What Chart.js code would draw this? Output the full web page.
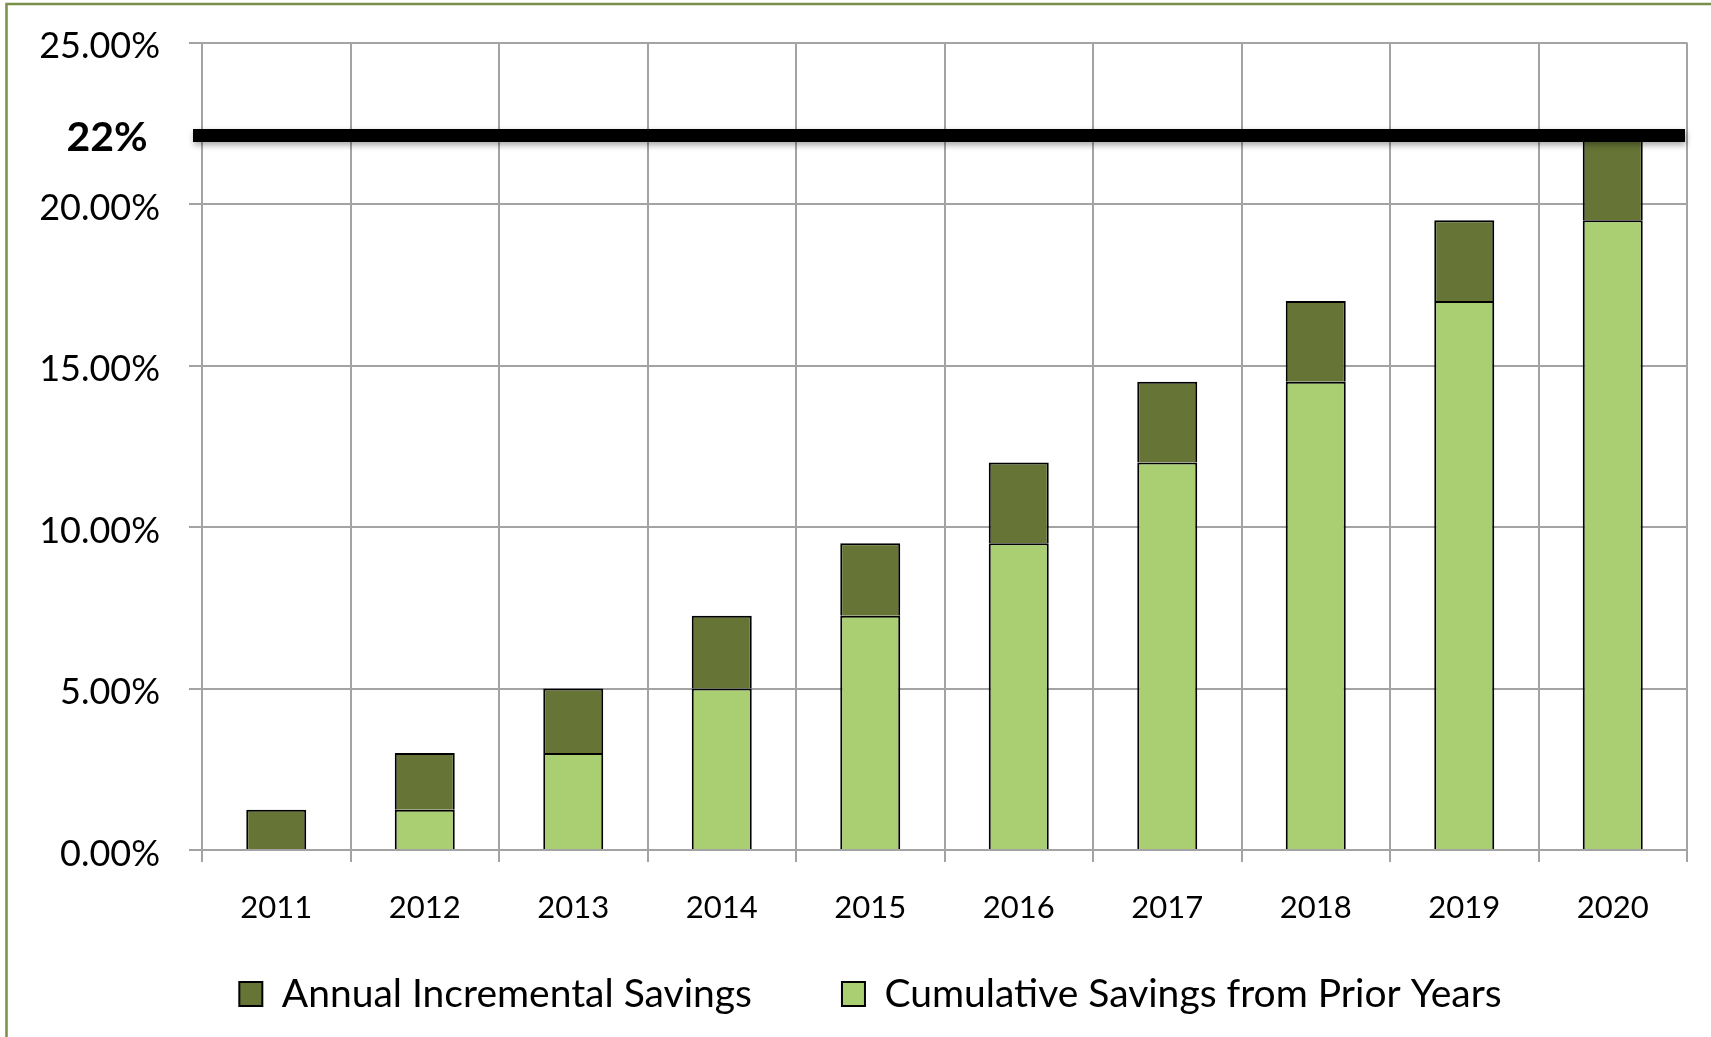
<!DOCTYPE html>
<html>
<head>
<meta charset="utf-8">
<script src="https://cdn.jsdelivr.net/npm/chart.js@4.4.1/dist/chart.umd.min.js"></script>
<style>
html,body{margin:0;padding:0;background:#fff;overflow:hidden}
#wrap{width:1711px;height:1037px;position:relative}
</style>
</head>
<body>
<div id="wrap"><canvas id="c" width="1711" height="1037"></canvas></div>
<script>
// ---- data ----
const years = ['2011','2012','2013','2014','2015','2016','2017','2018','2019','2020'];
const cumulativePrior = [0, 1.25, 3, 5, 7.25, 9.5, 12, 14.5, 17, 19.5];
const annualIncremental = [1.25, 1.75, 2, 2.25, 2.25, 2.5, 2.5, 2.5, 2.5, 2.5];
const seriesNames = ['Cumulative Savings from Prior Years', 'Annual Incremental Savings'];
const yMin = 0, yMax = 25, yStep = 5;
const targetValue = 22;
const targetLabel = '22%';

// ---- styles ----
const FONT = 'Lato';
const darkGreen = '#667536';
const lightGreen = '#AACF73';
const gridColor = '#A3A3A3';
const frameColor = '#7A8F48';
const LEGEND_FONT = 39;
const LEGEND_PAD = 90;

const framePlugin = {
  id: 'frame',
  beforeDraw(chart) {
    const ctx = chart.ctx;
    ctx.save();
    ctx.fillStyle = '#fff';
    ctx.fillRect(0, 0, chart.width, chart.height);
    ctx.strokeStyle = frameColor;
    ctx.lineWidth = 2.5;
    ctx.beginPath();
    ctx.moveTo(chart.width, 4);
    ctx.lineTo(6.5, 4);
    ctx.lineTo(6.5, chart.height);
    ctx.stroke();
    ctx.restore();
  }
};

const legendPlacePlugin = {
  id: 'legendPlace',
  beforeLayout(chart) {
    const lg = chart.legend;
    if (lg && !lg._fixedFit) {
      const orig = lg.fit;
      lg.fit = function () { orig.call(this); this.height = 87; };
      lg._fixedFit = true;
    }
  },
  afterLayout(chart) {
    const lg = chart.legend;
    if (!lg) return;
    // legend text centre sits at ~994px
    lg.top = 994 - LEGEND_PAD - LEGEND_FONT / 2;
    lg.left += 27;
    lg.right += 27;
  }
};

const targetPlugin = {
  id: 'target',
  afterDatasetsDraw(chart) {
    const {ctx, chartArea: a, scales: {y}} = chart;
    const yp = y.getPixelForValue(targetValue) - 4;
    ctx.save();
    ctx.shadowColor = 'rgba(0,0,0,0.35)';
    ctx.shadowBlur = 6;
    ctx.shadowOffsetX = 1;
    ctx.shadowOffsetY = 3;
    ctx.strokeStyle = '#000';
    ctx.lineWidth = 13;
    ctx.lineCap = 'butt';
    ctx.beginPath();
    ctx.moveTo(a.left - 9, yp);
    ctx.lineTo(a.right - 2, yp);
    ctx.stroke();
    ctx.restore();
    ctx.save();
    ctx.font = 'bold 41px ' + FONT;
    ctx.fillStyle = '#000';
    ctx.textAlign = 'center';
    ctx.textBaseline = 'middle';
    ctx.fillText(targetLabel, a.left - 95, yp + 2);
    ctx.restore();
  }
};

new Chart(document.getElementById('c'), {
  type: 'bar',
  data: {
    labels: years,
    datasets: [
      {
        label: seriesNames[0],
        data: cumulativePrior,
        backgroundColor: lightGreen,
        borderColor: '#000',
        borderWidth: 2
      },
      {
        label: seriesNames[1],
        data: annualIncremental,
        backgroundColor: darkGreen,
        borderColor: '#000',
        borderWidth: 2
      }
    ]
  },
  options: {
    responsive: false,
    animation: false,
    devicePixelRatio: 1,
    layout: { padding: { left: 0, right: 24, top: 42.5, bottom: 0 } },
    datasets: { bar: { barPercentage: 0.404, categoryPercentage: 1.0 } },
    scales: {
      x: {
        stacked: true,
        grid: { color: gridColor, lineWidth: 2, tickLength: 12, offset: true },
        border: { color: gridColor, width: 2 },
        ticks: { color: '#000', font: { family: FONT, size: 31 }, padding: 27, maxRotation: 0 },
        afterFit(scale) { scale.height = 100; }
      },
      y: {
        stacked: true,
        min: yMin, max: yMax,
        grid: { color: gridColor, lineWidth: 2, tickLength: 13 },
        border: { color: gridColor, width: 2 },
        ticks: {
          stepSize: yStep,
          color: '#000',
          font: { family: FONT, size: 36 },
          padding: 29,
          labelOffset: 4,
          callback: v => v.toFixed(2) + '%'
        },
        afterFit(scale) {
          scale.width = 202;
          scale.paddingTop = 0;
          scale.paddingBottom = 0;
        }
      }
    },
    plugins: {
      legend: {
        position: 'bottom',
        reverse: true,
        labels: {
          color: '#000',
          font: { family: FONT, size: LEGEND_FONT },
          boxWidth: 23,
          boxHeight: 24,
          padding: LEGEND_PAD
        }
      },
      tooltip: { enabled: false }
    }
  },
  plugins: [framePlugin, legendPlacePlugin, targetPlugin]
});
</script>
</body>
</html>
